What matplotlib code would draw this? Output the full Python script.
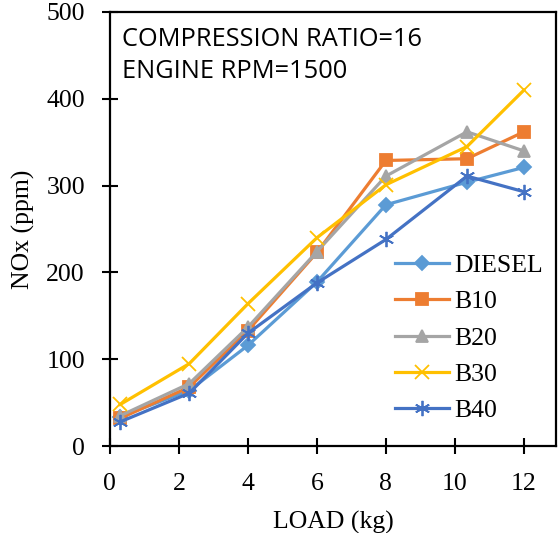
import matplotlib
matplotlib.use("Agg")
import matplotlib.pyplot as plt

# load (kg) and NOx (ppm)
load = [0.3, 2.3, 4, 6, 8, 10.35, 12]
diesel = [34, 64, 116, 189, 278, 304, 321]
b10 = [32, 68, 133, 223, 329, 331, 362]
b20 = [35, 72, 137, 224, 311, 362, 340]
b30 = [48, 95, 164, 240, 301, 345, 410]
b40 = [28, 61, 130, 188, 238, 311, 293]

series = [
    ("DIESEL", diesel, "#5B9BD5", "D", 7),
    ("B10", b10, "#ED7D31", "s", 9),
    ("B20", b20, "#A5A5A5", "^", 9),
    ("B30", b30, "#FFC000", "x", 10),
    ("B40", b40, "#4472C4", (6, 2, 0), 11),
]

fig = plt.figure(figsize=(5.58, 5.33), dpi=100)
ax = fig.add_axes([0.197, 0.163, 0.7994, 0.8145])

for name, vals, col, mk, ms in series:
    ax.plot(load, vals, color=col, lw=2.3, marker=mk, markersize=ms,
            markeredgecolor=col, markerfacecolor=col, markeredgewidth=1.3,
            label=name)

ax.set_xlim(0, 12.93)
ax.set_ylim(0, 500)
ax.set_xticks(range(0, 13, 2))
ax.set_yticks(range(0, 501, 100))

serif = "Liberation Serif"
ax.tick_params(direction="inout", length=12, width=1.5, colors="black",
               labelsize=18.5)
ax.tick_params(axis="x", pad=13)
ax.tick_params(axis="y", pad=12)
for lab in ax.get_xticklabels() + ax.get_yticklabels():
    lab.set_family(serif)
for sp in ax.spines.values():
    sp.set_linewidth(1.6)

ax.set_xlabel("LOAD (kg)", family=serif, fontsize=18.5, labelpad=12)
ax.set_ylabel("NOx (ppm)", family=serif, fontsize=18.5, labelpad=8)

ax.text(0.026, 0.965, "COMPRESSION RATIO=16\nENGINE RPM=1500",
        transform=ax.transAxes, ha="left", va="top", fontsize=18.3,
        family="Open Sans", linespacing=1.36)

leg = ax.legend(loc="lower right", bbox_to_anchor=(0.993, 0.032),
                frameon=False, prop={"family": serif, "size": 18.5},
                handlelength=2.1, handletextpad=0.2, labelspacing=0.515,
                borderaxespad=0.0)

fig.savefig("out.png", dpi=100)
